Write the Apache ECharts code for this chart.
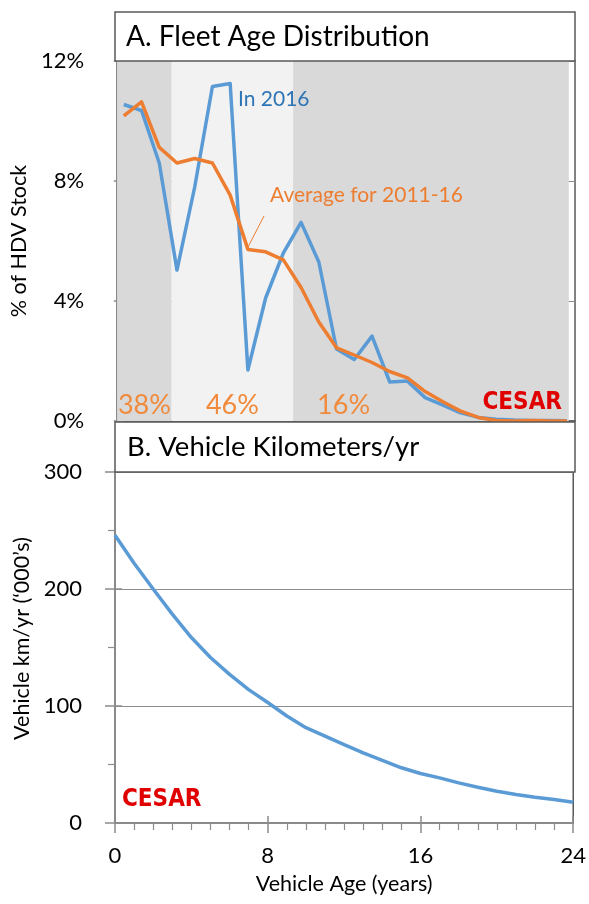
<!DOCTYPE html>
<html>
<head>
<meta charset="utf-8">
<script src="https://cdn.jsdelivr.net/npm/echarts@6/dist/echarts.min.js"></script>
<style>
  html, body { margin: 0; padding: 0; background: #fff; }
  #chart { width: 589px; height: 904px; }
</style>
</head>
<body>
<div id="chart"></div>
<script>
// fleet age distribution, index = age step
var ageIdx = [0, 1, 2, 3, 4, 5, 6, 7, 8, 9, 10, 11, 12, 13, 14, 15, 16, 17, 18, 19, 20, 21, 22, 23, 24, 25];
var share2016 = [10.55, 10.35, 8.6, 5.03, 7.8, 11.15, 11.25, 1.7, 4.1, 5.6, 6.62, 5.3, 2.4, 2.05, 2.83, 1.3, 1.33, 0.78, 0.53, 0.27, 0.12, 0.06, 0.03, 0.02, 0.02, 0.01];
var shareAvg = [10.17, 10.64, 9.12, 8.6, 8.75, 8.6, 7.53, 5.72, 5.64, 5.37, 4.45, 3.3, 2.44, 2.2, 1.95, 1.65, 1.44, 0.98, 0.64, 0.33, 0.12, 0.02, 0.0, 0.02, 0.0, 0.0];
// shaded age groups and their share of the stock
var bandEdges = [-0.38, 2.7, 9.55, 25.1];
var bandLabels = ['38%', '46%', '16%'];

// vehicle km per year ('000) by age
var vktAge = [0, 1, 2, 3, 4, 5, 6, 7, 8, 9, 10, 11, 12, 13, 14, 15, 16, 17, 18, 19, 20, 21, 22, 23, 24];
var vktKm = [246, 222, 200, 178.5, 158.5, 141.5, 127, 114, 103, 91.5, 81.5, 74.3, 67, 60, 53.5, 47.2, 42.3, 38.6, 34.3, 30.6, 27.2, 24.3, 22, 20, 17.7];

var FONT = 'Lato';
var LOGO_FONT = "'DejaVu Sans Condensed', 'Liberation Sans', sans-serif";
var BLUE = '#5b9bd5';
var ORANGE = '#ed7d31';
var BOX = '#595959';
var GRIDC = '#8c8c8c';
var TICK_FS = 22;
var NAME_FS = 21.5;

var chart = echarts.init(document.getElementById('chart'));

function pairs(xs, ys) {
  var out = [];
  for (var i = 0; i < xs.length; i++) {
    out.push([xs[i], ys[i]]);
  }
  return out;
}

function innerTicks(grid, max, step) {
  // second copy of an axis, only for the inner half of the major ticks
  return {
    gridIndex: grid, type: 'value', min: 0, max: max, interval: step,
    axisLine: { show: false }, axisLabel: { show: false }, splitLine: { show: false },
    axisTick: { show: true, inside: true, length: 7, lineStyle: { color: GRIDC, width: 1.5 } }
  };
}

var option = {
  backgroundColor: '#fff',
  animation: false,
  textStyle: { fontFamily: FONT },
  grid: [
    { left: 115, top: 61, width: 460, height: 360, show: true, borderColor: BOX, borderWidth: 1.5, backgroundColor: '#fff' },
    { left: 115, top: 472, width: 459, height: 351, show: true, borderColor: BOX, borderWidth: 1.5, backgroundColor: '#fff' }
  ],
  xAxis: [
    {
      gridIndex: 0, type: 'value', min: bandEdges[0], max: 25.45,
      axisLine: { show: true, lineStyle: { color: BOX, width: 1.5 } },
      axisTick: { show: false }, axisLabel: { show: false }, splitLine: { show: false }
    },
    {
      gridIndex: 1, type: 'value', min: 0, max: 24, interval: 8,
      name: 'Vehicle Age (years)', nameLocation: 'middle', nameGap: 50,
      nameTextStyle: { fontSize: NAME_FS, color: '#000', fontFamily: FONT },
      axisLine: { show: true, lineStyle: { color: GRIDC, width: 1.5 } },
      axisTick: { show: true, length: 10, lineStyle: { color: GRIDC, width: 1.5 } },
      minorTick: { show: true, splitNumber: 8, length: 7, lineStyle: { color: GRIDC, width: 1.2 } },
      axisLabel: { fontSize: TICK_FS, color: '#000', margin: 22, fontFamily: FONT },
      splitLine: { show: false }
    },
    Object.assign(innerTicks(1, 24, 8), { position: 'bottom' })
  ],
  yAxis: [
    {
      gridIndex: 0, type: 'value', min: 0, max: 12, interval: 4,
      name: '% of HDV Stock', nameLocation: 'middle', nameGap: 73,
      nameTextStyle: { fontSize: NAME_FS, color: '#000', fontFamily: FONT },
      axisLine: { show: true, lineStyle: { color: GRIDC, width: 1.5 } },
      axisTick: { show: true, length: 10, lineStyle: { color: GRIDC, width: 1.5 } },
      minorTick: { show: true, splitNumber: 2, length: 7, lineStyle: { color: GRIDC, width: 1.2 } },
      axisLabel: { fontSize: TICK_FS, color: '#000', margin: 33, formatter: '{value}%', fontFamily: FONT },
      splitLine: { show: true, lineStyle: { color: GRIDC, width: 1.2 } }
    },
    Object.assign(innerTicks(0, 12, 4), { position: 'left' }),
    {
      gridIndex: 1, type: 'value', min: 0, max: 300, interval: 100,
      name: 'Vehicle km/yr (\u2018000\u2019s)', nameLocation: 'middle', nameGap: 73,
      nameTextStyle: { fontSize: NAME_FS, color: '#000', fontFamily: FONT, padding: [0, 0, 0, 18] },
      axisLine: { show: true, lineStyle: { color: GRIDC, width: 1.5 } },
      axisTick: { show: true, length: 10, lineStyle: { color: GRIDC, width: 1.5 } },
      minorTick: { show: true, splitNumber: 2, length: 7, lineStyle: { color: GRIDC, width: 1.2 } },
      axisLabel: { fontSize: TICK_FS, color: '#000', margin: 33, fontFamily: FONT },
      splitLine: { show: true, lineStyle: { color: GRIDC, width: 1.2 } }
    },
    Object.assign(innerTicks(1, 300, 100), { position: 'left' })
  ],
  series: [
    {
      // shaded age groups
      type: 'line', xAxisIndex: 0, yAxisIndex: 0, data: [], z: 1, silent: true,
      markArea: {
        silent: true,
        label: {
          show: true, position: 'insideBottom', distance: 2,
          fontSize: 27, color: '#f08a3c', fontFamily: FONT
        },
        data: [
          [{ xAxis: bandEdges[0], yAxis: 0, name: bandLabels[0], itemStyle: { color: '#d9d9d9' } }, { xAxis: bandEdges[1], yAxis: 12 }],
          [{ xAxis: bandEdges[1], yAxis: 0, name: bandLabels[1], itemStyle: { color: '#f2f2f2' } }, { xAxis: bandEdges[2], yAxis: 12 }],
          [{
            xAxis: bandEdges[2], yAxis: 0, name: bandLabels[2], itemStyle: { color: '#d9d9d9' },
            label: { position: 'insideBottomLeft', distance: 2, offset: [22, 0] }
          }, { xAxis: bandEdges[3], yAxis: 12 }]
        ]
      }
    },
    {
      name: 'In 2016', type: 'line', xAxisIndex: 0, yAxisIndex: 0, z: 3,
      data: pairs(ageIdx, share2016), symbol: 'none',
      lineStyle: { color: BLUE, width: 3.5, join: 'round' }
    },
    {
      name: 'Average for 2011-16', type: 'line', xAxisIndex: 0, yAxisIndex: 0, z: 4,
      data: pairs(ageIdx, shareAvg), symbol: 'none',
      lineStyle: { color: ORANGE, width: 3.5, join: 'round' }
    },
    {
      name: 'VKT', type: 'line', xAxisIndex: 1, yAxisIndex: 2, z: 3,
      data: pairs(vktAge, vktKm), symbol: 'none',
      lineStyle: { color: BLUE, width: 3.5 }
    }
  ],
  graphic: [
    { type: 'rect', z: 10, shape: { x: 115, y: 12, width: 460, height: 49 }, style: { fill: '#fff', stroke: BOX, lineWidth: 1.5 } },
    { type: 'text', z: 11, x: 126, y: 37, style: { text: 'A. Fleet Age Distribution', fontSize: 28, fontFamily: FONT, fill: '#000', verticalAlign: 'middle' } },
    { type: 'rect', z: 10, shape: { x: 115, y: 422, width: 460, height: 50 }, style: { fill: '#fff', stroke: BOX, lineWidth: 1.5 } },
    { type: 'text', z: 11, x: 127, y: 447, style: { text: 'B. Vehicle Kilometers/yr', fontSize: 27.5, fontFamily: FONT, fill: '#000', verticalAlign: 'middle' } },
    { type: 'text', z: 11, x: 238, y: 99, style: { text: 'In 2016', fontSize: 21, fontFamily: FONT, fill: '#2e75b6', verticalAlign: 'middle' } },
    { type: 'text', z: 11, x: 270, y: 195, style: { text: 'Average for 2011-16', fontSize: 21, fontFamily: FONT, fill: ORANGE, verticalAlign: 'middle' } },
    { type: 'line', z: 11, shape: { x1: 264, y1: 216, x2: 248, y2: 247 }, style: { stroke: ORANGE, lineWidth: 1 } },
    { type: 'text', z: 11, x: 562, y: 403, style: { text: 'CESAR', fontSize: 24, fontWeight: 'bold', fontFamily: LOGO_FONT, fill: '#e00000', align: 'right', verticalAlign: 'middle' } },
    { type: 'text', z: 11, x: 122, y: 800, style: { text: 'CESAR', fontSize: 24, fontWeight: 'bold', fontFamily: LOGO_FONT, fill: '#e00000', verticalAlign: 'middle' } }
  ]
};

chart.setOption(option);
</script>
</body>
</html>
